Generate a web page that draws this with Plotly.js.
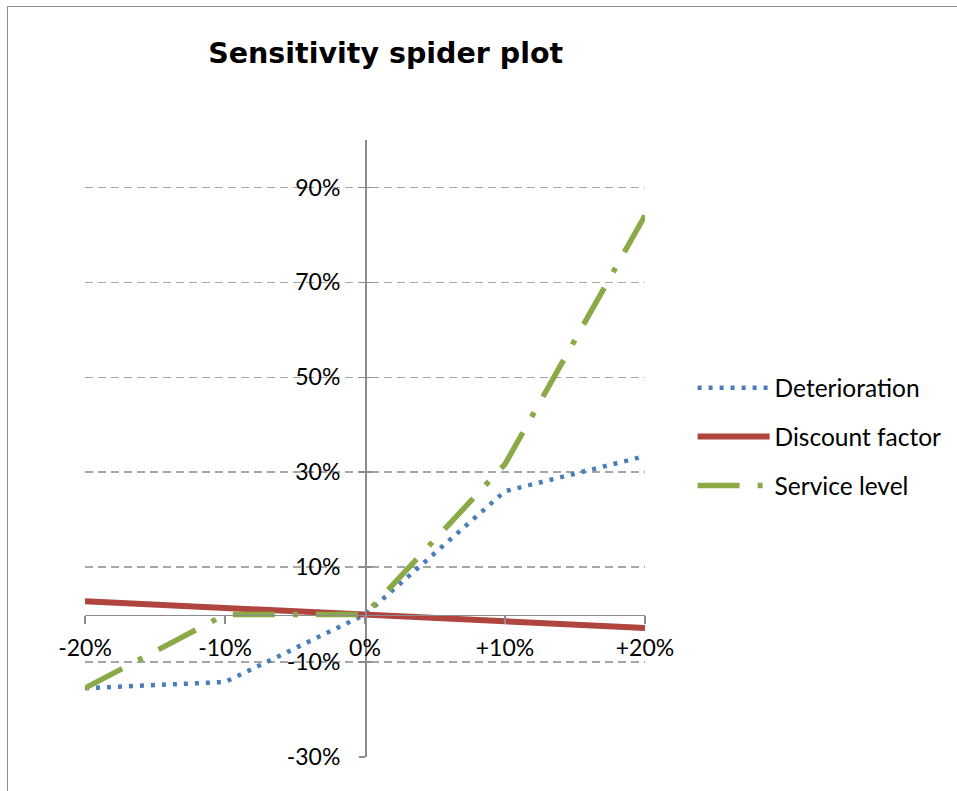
<!DOCTYPE html>
<html>
<head>
<meta charset="utf-8">
<script src="https://cdn.plot.ly/plotly-3.0.1.min.js"></script>
<style>
html,body{margin:0;padding:0;background:#fff;overflow:hidden;}
#frame{position:absolute;left:7px;top:6px;width:1000px;height:1000px;border:1.5px solid #8c8c8c;box-sizing:border-box;}
#chart{position:absolute;left:0;top:0;width:957px;height:791px;}
</style>
</head>
<body>
<div id="frame"></div>
<div id="chart"></div>
<script>
// Data (percent)
const xValues = [-20, -10, 0, 10, 20];
const xTickText = ['-20%', '-10%', '0%', '+10%', '+20%'];
const deterioration = [-15.5, -14.2, 0, 26.0, 33.4];
const discountFactor = [2.8, 1.4, 0, -1.4, -2.8];
const serviceLevel = [-15.5, 0, 0, 31.7, 84.1];
const yTickVals = [-30, -10, 10, 30, 50, 70, 90];
const yTickText = ['-30%', '-10%', '10%', '30%', '50%', '70%', '90%'];

const FONT = 'Lato, "Liberation Sans", sans-serif';

const traces = [
  {x: xValues, y: deterioration, name: 'Deterioration', legendgroup: 'a', mode: 'lines', type: 'scatter',
   line: {color: '#4a7ebb', width: 4.5, dash: '4px,7px'}},
  {x: xValues, y: discountFactor, name: 'Discount factor', legendgroup: 'b', mode: 'lines', type: 'scatter',
   line: {color: '#b0443f', width: 6}},
  {x: xValues, y: serviceLevel, name: 'Service level', legendgroup: 'c', mode: 'lines', type: 'scatter',
   line: {color: '#8aaa48', width: 5.5, dash: '42px,18px,5px,18px'}},
  {x: [0], y: [0], yaxis: 'y2', mode: 'markers', marker: {opacity: 0}, showlegend: false, hoverinfo: 'skip'}
];

const yRange = [-30, 100];
const layout = {
  width: 957, height: 791,
  paper_bgcolor: 'rgba(0,0,0,0)', plot_bgcolor: 'rgba(0,0,0,0)',
  margin: {l: 85, r: 312, t: 140, b: 34, autoexpand: false},
  font: {family: FONT, size: 23, color: '#000'},
  title: {text: '<b>Sensitivity spider plot</b>', x: 0.403, xanchor: 'center', y: 0.933, yanchor: 'middle', yref: 'container',
          font: {family: '"DejaVu Sans", sans-serif', size: 28.5, color: '#000'}},
  xaxis: {range: [-20, 20], tickvals: xValues, ticktext: xTickText, anchor: 'free', position: 30/130,
          automargin: false,
          showgrid: false, zeroline: false, showline: true, linecolor: '#8c8c8c', linewidth: 1.5,
          ticks: 'outside', ticklen: 8, tickcolor: '#8c8c8c', tickwidth: 1.5, ticklabelstandoff: 4,
          tickfont: {family: FONT, size: 23}},
  yaxis: {range: yRange, tickvals: yTickVals, ticktext: yTickText, anchor: 'free', position: 0.5,
          automargin: false,
          showgrid: true, gridcolor: '#a6a6a6', gridwidth: 1.5, griddash: '8px,5px',
          zeroline: false, showline: true, linecolor: '#8c8c8c', linewidth: 1.5,
          ticks: 'outside', ticklen: 6, tickcolor: '#8c8c8c', tickwidth: 1.5, ticklabelstandoff: 14,
          tickfont: {family: FONT, size: 23}},
  yaxis2: {range: yRange, tickvals: yTickVals, overlaying: 'y', anchor: 'free', position: 0.5, side: 'left',
           automargin: false,
           showgrid: false, zeroline: false, showline: false, showticklabels: false,
           ticks: 'inside', ticklen: 6, tickcolor: '#8c8c8c', tickwidth: 1.5},
  showlegend: true,
  legend: {x: 1.085, xanchor: 'left', y: 0.519, yanchor: 'middle', bgcolor: 'rgba(0,0,0,0)',
           font: {family: FONT, size: 24.5}, traceorder: 'grouped', tracegroupgap: 14, itemwidth: 72},
  hovermode: false
};

Plotly.newPlot('chart', traces, layout, {staticPlot: true});
</script>
</body>
</html>
